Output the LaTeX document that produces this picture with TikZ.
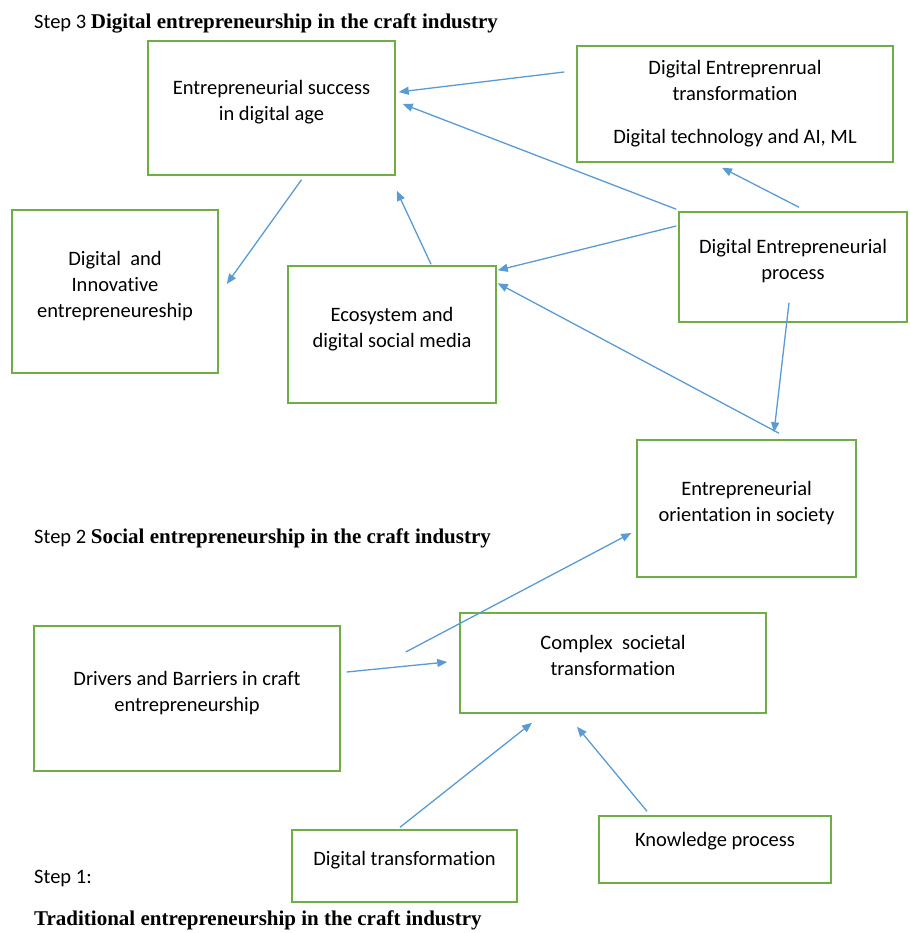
\documentclass[tikz,border=0pt]{standalone}
\usepackage{fontspec}
\setmainfont[RawFeature=-liga]{Carlito}
\newfontfamily\headfont{Liberation Serif}
\usepackage{xcolor}
\usepackage{tikz}
\usetikzlibrary{shapes,arrows.meta,positioning}

\definecolor{boxgreen}{RGB}{112,173,71}
\definecolor{arrowblue}{RGB}{91,155,213}

\begin{document}
\begin{tikzpicture}[x=1pt,y=1pt]

\tikzstyle{stagebox} = [rectangle, draw=boxgreen, line width=1.5pt, align=center, inner sep=0pt, text depth=15pt, font=\fontsize{20.5}{26}\selectfont]
\tikzstyle{arrow} = [line width=1.3pt, draw=arrowblue, -{Triangle[length=10pt,width=8pt]}, arrowblue]
\tikzstyle{steplabel} = [anchor=base west, inner sep=0pt, font=\fontsize{20.5}{24}\selectfont]

\newcommand{\headbold}[1]{{\headfont\bfseries\fontsize{21}{24}\selectfont #1}}

\useasboundingbox[fill=white] (0,0) rectangle (909,-933);

% step titles
\node (title3) [steplabel] at (34,-29) {Step 3 \headbold{Digital entrepreneurship in the craft industry}};
\node (title2) [steplabel] at (34,-543) {Step 2 \headbold{Social entrepreneurship in the craft industry}};
\node (title1) [steplabel] at (34,-883) {Step 1:};
\node (title1b) [steplabel] at (34,-925) {\headbold{Traditional entrepreneurship in the craft industry}};

% boxes
\node (succ) [stagebox, minimum width=247pt, minimum height=134pt] at (271.5,-108) {Entrepreneurial success\\in digital age};
\node (trans) [stagebox, minimum width=316pt, minimum height=116pt, text depth=4pt] at (735,-104) {Digital Entreprenrual\\transformation\\[17pt]Digital technology and AI, ML};
\node (innov) [stagebox, minimum width=206pt, minimum height=163pt] at (115,-291.5) {Digital~ and\\Innovative\\entrepreneureship};
\node (eco) [stagebox, minimum width=208pt, minimum height=137pt] at (392,-334.5) {Ecosystem and\\digital social media};
\node (proc) [stagebox, minimum width=228pt, minimum height=110pt] at (793,-267) {Digital Entrepreneurial\\process};
\node (orient) [stagebox, minimum width=219pt, minimum height=137pt] at (746.5,-508.5) {Entrepreneurial\\orientation in society};
\node (complex) [stagebox, minimum width=306pt, minimum height=100pt] at (613,-663) {Complex~ societal\\transformation};
\node (drivers) [stagebox, minimum width=306pt, minimum height=145pt] at (187,-698.5) {Drivers and Barriers in craft\\entrepreneurship};
\node (digtrans) [stagebox, minimum width=225pt, minimum height=72pt] at (404.5,-866) {Digital transformation};
\node (know) [stagebox, minimum width=232pt, minimum height=67pt, text depth=20pt] at (715,-849.5) {Knowledge process};

% connectors
\draw [arrow] ([shift={(-12,32)}]trans.west) -- ([shift={(3,16)}]succ.east);
\draw [arrow] ([shift={(-2,2)}]proc.north west) -- ([shift={(7,4)}]succ.east);
\draw [arrow] ([shift={(30,-4)}]succ.south) -- ([shift={(8,7.5)}]innov.east);
\draw [arrow] ([shift={(39,1)}]eco.north) -- ([shift={(1,-15)}]succ.south east);
\draw [arrow] ([shift={(6,4)}]proc.north) -- ([shift={(-13,-5)}]trans.south);
\draw [arrow] ([shift={(-2,41)}]proc.west) -- ([shift={(1,-5)}]eco.north east);
\draw [arrow] ([shift={(-4,20)}]proc.south) -- ([shift={(27.5,7)}]orient.north);
\draw [arrow] ([shift={(32.5,6)}]orient.north) -- ([shift={(1,-18)}]eco.north east);
\draw [arrow] ([shift={(65,46.5)}]drivers.east) -- ([shift={(-5,-24.5)}]orient.west);
\draw [arrow] ([shift={(6,26.5)}]drivers.east) -- ([shift={(-12,1)}]complex.west);
\draw [arrow] ([shift={(-4.5,2)}]digtrans.north) -- ([shift={(-81,-9)}]complex.south);
\draw [arrow] ([shift={(-68,4)}]know.north) -- ([shift={(-36,-13)}]complex.south);

\end{tikzpicture}
\end{document}
